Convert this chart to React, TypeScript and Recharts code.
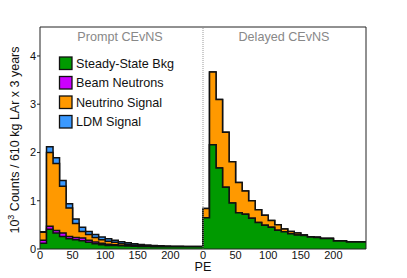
import React from "react";
import { ComposedChart, Area, XAxis, YAxis, ReferenceLine } from "recharts";

// ---- data (10 PE bins, 25 bins per panel) ----
const binWidth = 10;
const panelSpan = 250;
const xTickValues = [0, 50, 100, 150, 200];
const yTickValues = [0, 1, 2, 3, 4];

// Prompt CEvNS window (per-component contributions, 10^3 counts)
const promptSteadyState = [0.12, 0.41, 0.33, 0.26, 0.21, 0.19, 0.17, 0.14, 0.11, 0.09, 0.075, 0.07, 0.065, 0.06, 0.055, 0.05, 0.05, 0.048, 0.047, 0.046, 0.045, 0.045, 0.045, 0.045, 0.045];
const promptBeamNeutrons = [0.06, 0.06, 0.055, 0.07, 0.05, 0.05, 0.06, 0.04, 0.035, 0.03, 0.025, 0.02, 0.015, 0.012, 0.01, 0.008, 0.006, 0.005, 0.004, 0.003, 0.003, 0.002, 0.002, 0.002, 0.002];
const promptNeutrino = [0.165, 1.53, 1.385, 0.97, 0.59, 0.29, 0.135, 0.12, 0.095, 0.07, 0.06, 0.05, 0.035, 0.025, 0.02, 0.015, 0.01, 0.008, 0.006, 0.005, 0.004, 0.003, 0.003, 0.003, 0.003];
const promptLDM = [0.01, 0.12, 0.12, 0.12, 0.09, 0.09, 0.085, 0.065, 0.06, 0.06, 0.05, 0.04, 0.035, 0.03, 0.025, 0.022, 0.018, 0.014, 0.01, 0.008, 0.006, 0.005, 0.004, 0.004, 0.004];

// Delayed CEvNS window
const delayedSteadyState = [0.65, 2.16, 1.68, 1.28, 0.955, 0.75, 0.72, 0.635, 0.55, 0.49, 0.45, 0.39, 0.355, 0.315, 0.29, 0.28, 0.25, 0.24, 0.215, 0.215, 0.165, 0.165, 0.145, 0.145, 0.145];
const delayedBeamNeutrons = [0, 0, 0, 0, 0, 0, 0, 0, 0, 0, 0, 0, 0, 0, 0, 0, 0, 0, 0, 0, 0, 0, 0, 0, 0];
const delayedNeutrino = [0.19, 1.51, 1.42, 1.14, 0.855, 0.63, 0.48, 0.365, 0.265, 0.21, 0.14, 0.115, 0.06, 0.05, 0.04, 0.01, 0.003, 0.003, 0.002, 0.002, 0.002, 0.002, 0.002, 0.002, 0.002];
const delayedLDM = [0, 0, 0, 0, 0, 0, 0, 0, 0, 0, 0, 0, 0, 0, 0, 0, 0, 0, 0, 0, 0, 0, 0, 0, 0];

const panelTitles = ["Prompt CEvNS", "Delayed CEvNS"];
const seriesNames = ["Steady-State Bkg", "Beam Neutrons", "Neutrino Signal", "LDM Signal"];
const seriesColors = ["#009a00", "#cc00ff", "#ff9900", "#3a99ff"];

// ---- build cumulative step table ----
type Row = { pe: number; c0: number; c1: number; c2: number; c3: number };
const rows: Row[] = [];
const panels = [
  [promptSteadyState, promptBeamNeutrons, promptNeutrino, promptLDM],
  [delayedSteadyState, delayedBeamNeutrons, delayedNeutrino, delayedLDM],
];
panels.forEach((comp, p) => {
  comp[0].forEach((_, i) => {
    const a = comp[0][i];
    const b = a + comp[1][i];
    const c = b + comp[2][i];
    const d = c + comp[3][i];
    rows.push({ pe: p * panelSpan + i * binWidth, c0: a, c1: b, c2: c, c3: d });
  });
});
{
  const last = rows[rows.length - 1];
  rows.push({ ...last, pe: 2 * panelSpan });
}

const xTicks = [...xTickValues, ...xTickValues.map((v) => v + panelSpan)];
const FONT = "'Liberation Sans', Arial, Helvetica, sans-serif";

export default function App() {
  const keys = ["c3", "c2", "c1", "c0"];
  const colorFor = [seriesColors[3], seriesColors[2], seriesColors[1], seriesColors[0]];
  return (
    <div style={{ position: "absolute", left: 0, top: 0, width: 407, height: 278, background: "#fff" }}>
      <ComposedChart
        width={407}
        height={278}
        data={rows}
        margin={{ top: 27, right: 41, left: 0, bottom: 0 }}
        style={{ fontFamily: FONT }}
      >
        <XAxis
          dataKey="pe"
          type="number"
          domain={[0, 2 * panelSpan]}
          ticks={xTicks}
          tickFormatter={(v: number) => String(v % panelSpan)}
          tickLine={false}
          tickSize={0}
          tickMargin={2}
          height={29}
          axisLine={{ stroke: "#222", strokeWidth: 1 }}
          tick={{ fill: "#111", fontSize: 11, fontFamily: FONT }}
          interval={0}
        />
        <YAxis
          type="number"
          domain={[0, 4.6]}
          ticks={yTickValues}
          width={40}
          tickSize={3}
          tickMargin={1}
          axisLine={{ stroke: "#222", strokeWidth: 1 }}
          tickLine={{ stroke: "#222" }}
          tick={{ fill: "#111", fontSize: 11, fontFamily: FONT }}
          interval={0}
        />
        {keys.map((k, i) => (
          <Area
            key={k}
            dataKey={k}
            type="stepAfter"
            baseValue={0}
            fill={colorFor[i]}
            fillOpacity={1}
            stroke="#111"
            strokeWidth={1.5}
            dot={false}
            activeDot={false}
            isAnimationActive={false}
          />
        ))}
        <ReferenceLine x={panelSpan} stroke="#999" strokeDasharray="1 1" strokeWidth={1} />
        <ReferenceLine y={4.6} stroke="#222" strokeWidth={1} />
        <ReferenceLine x={2 * panelSpan} stroke="#222" strokeWidth={1} />
      </ComposedChart>
      <svg
        width={407}
        height={278}
        style={{ position: "absolute", left: 0, top: 0, pointerEvents: "none" }}
        fontFamily={FONT}
      >
        <text x={120} y={41} textAnchor="middle" fontSize={12.6} fill="#888">{panelTitles[0]}</text>
        <text x={284} y={41} textAnchor="middle" fontSize={12.6} fill="#888">{panelTitles[1]}</text>
        {seriesNames.map((name, i) => (
          <g key={name}>
            <rect x={59.5} y={57 + i * 19.5} width={12.5} height={12.5} fill={seriesColors[i]} stroke="#111" strokeWidth={1.3} />
            <text x={76} y={67.5 + i * 19.5} fontSize={12.6} fill="#111">{name}</text>
          </g>
        ))}
        <text x={203} y={271} textAnchor="middle" fontSize={12.6} fill="#111">PE</text>
        <text transform="translate(19,140) rotate(-90)" textAnchor="middle" fontSize={12.5} fill="#111">
          10<tspan dy={-5} fontSize={9}>3</tspan><tspan dy={5}> Counts / 610 kg LAr x 3 years</tspan>
        </text>
      </svg>
    </div>
  );
}
